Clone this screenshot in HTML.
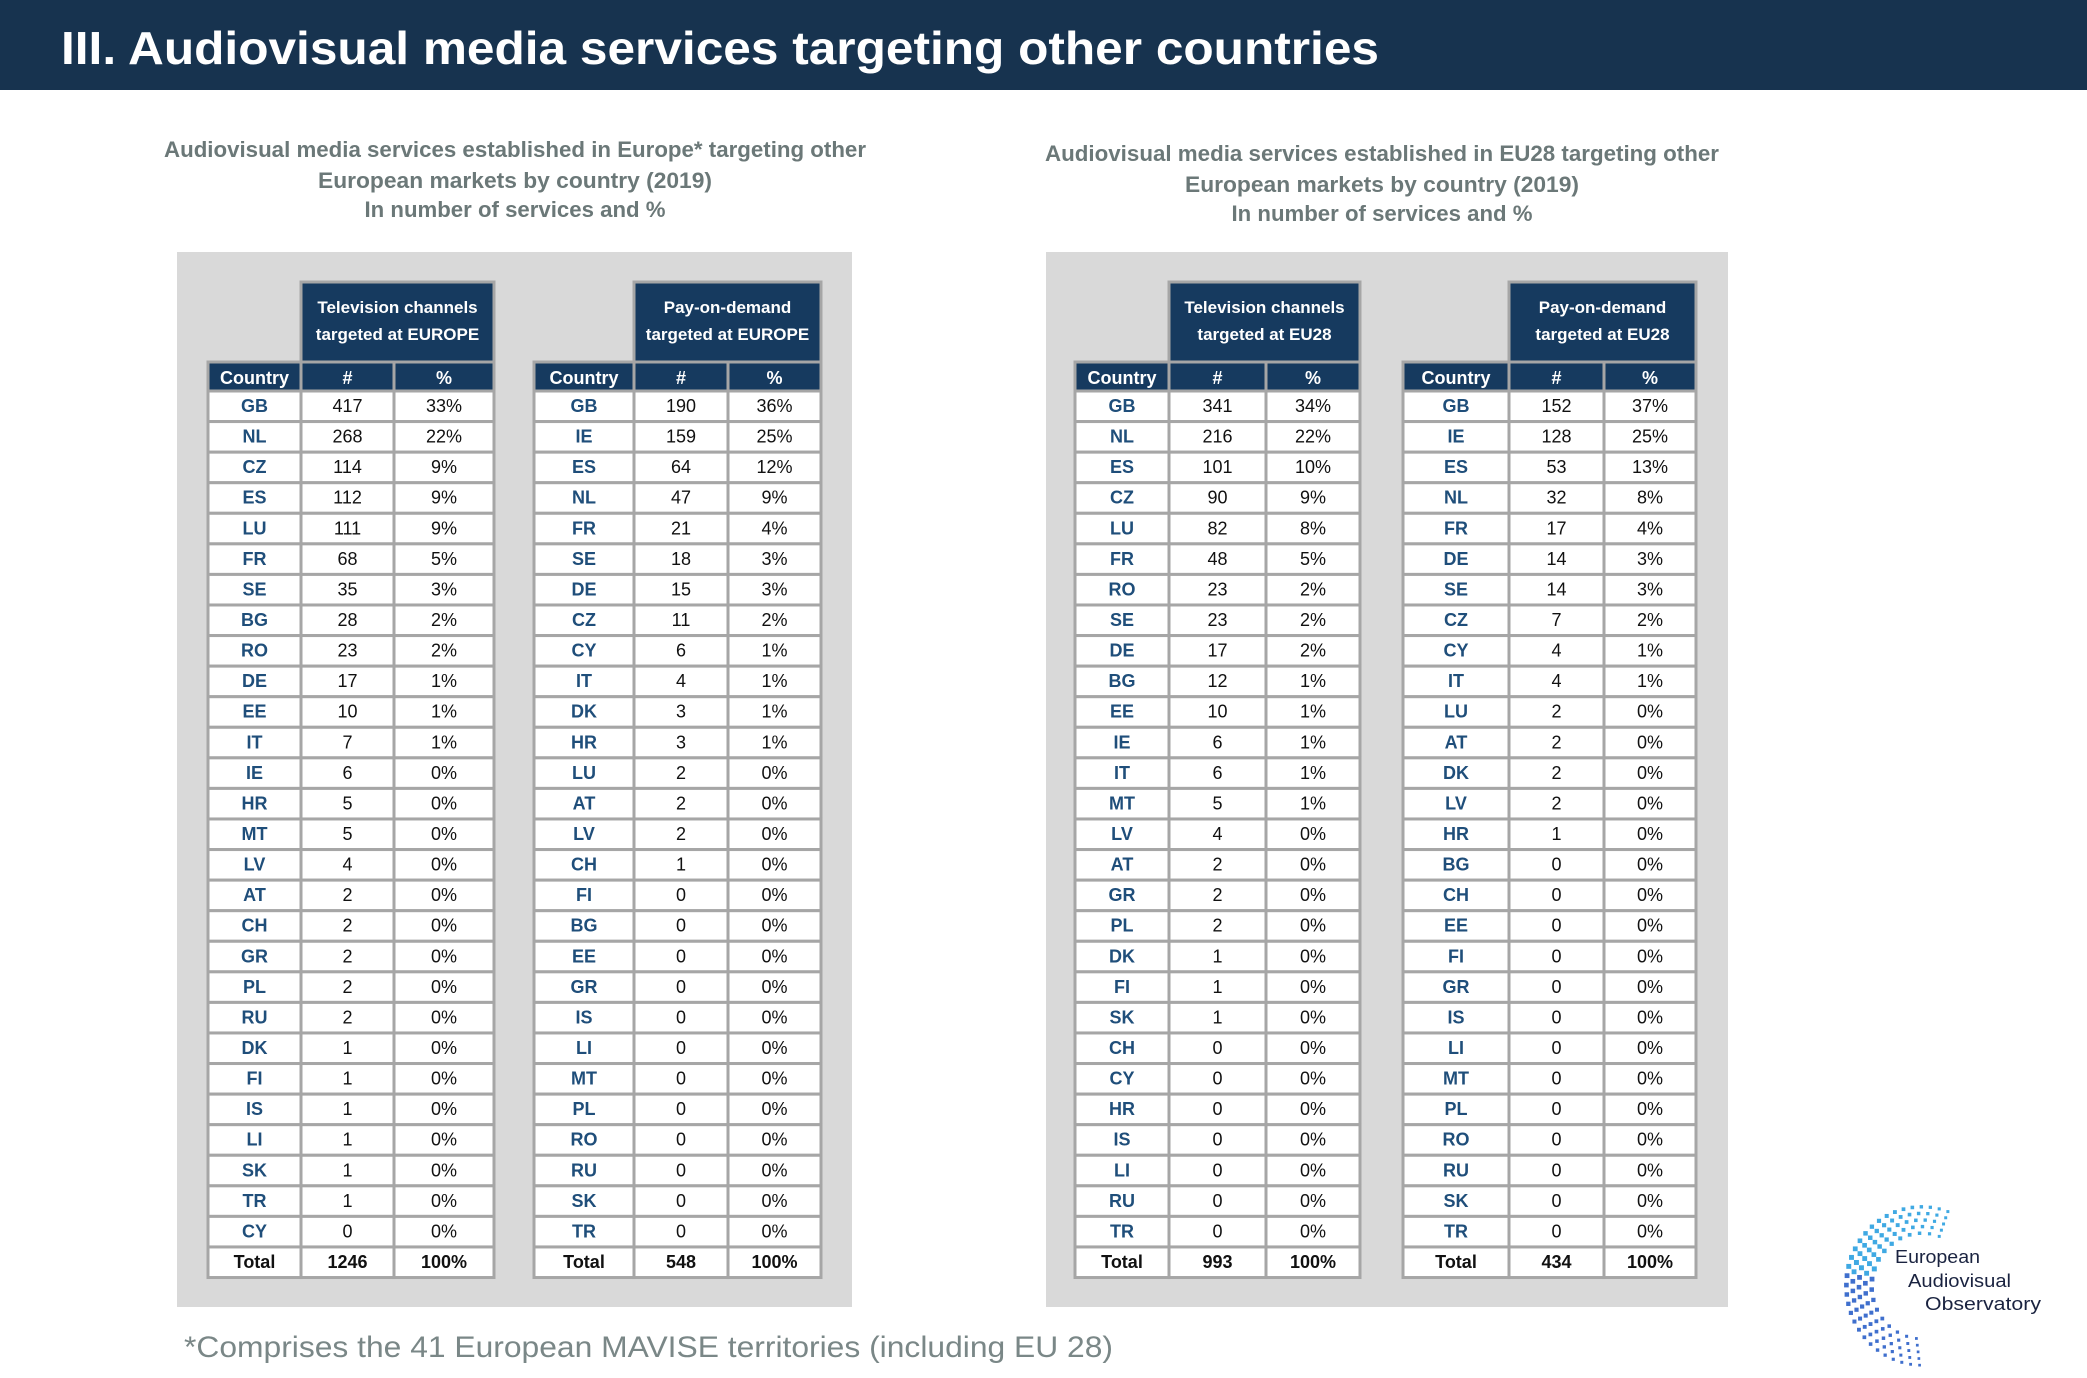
<!DOCTYPE html>
<html><head><meta charset="utf-8"><style>
html,body{margin:0;padding:0;background:#fff}
svg{display:block}
text{font-family:"Liberation Sans",sans-serif}
</style></head><body>
<svg id="page" width="2087" height="1378" viewBox="0 0 2087 1378" xmlns="http://www.w3.org/2000/svg">
<rect x="0" y="0" width="2087" height="90" fill="#17334f"/>
<text x="61" y="64" font-size="46" font-weight="bold" fill="#fff" textLength="1318" lengthAdjust="spacingAndGlyphs">III. Audiovisual media services targeting other countries</text>

<g font-size="22" font-weight="bold" fill="#6b7878" text-anchor="middle">
<text x="515" y="157" textLength="702" lengthAdjust="spacingAndGlyphs">Audiovisual media services established in Europe* targeting other</text>
<text x="515" y="188" textLength="394" lengthAdjust="spacingAndGlyphs">European markets by country (2019)</text>
<text x="515" y="217" textLength="301" lengthAdjust="spacingAndGlyphs">In number of services and %</text>
</g>
<g font-size="22" font-weight="bold" fill="#6b7878" text-anchor="middle">
<text x="1382" y="161" textLength="674" lengthAdjust="spacingAndGlyphs">Audiovisual media services established in EU28 targeting other</text>
<text x="1382" y="192" textLength="394" lengthAdjust="spacingAndGlyphs">European markets by country (2019)</text>
<text x="1382" y="221" textLength="301" lengthAdjust="spacingAndGlyphs">In number of services and %</text>
</g>
<rect x="177" y="252" width="675" height="1055" fill="#d9d9d9"/>
<rect x="1046" y="252" width="682" height="1055" fill="#d9d9d9"/>
<g id="tables"></g>
<text x="184" y="1357" font-size="30" fill="#7a8787" textLength="929" lengthAdjust="spacingAndGlyphs">*Comprises the 41 European MAVISE territories (including EU 28)</text>
<g id="logo"></g>
<g font-size="18" fill="#1a2340">
<text x="1895" y="1263" textLength="85" lengthAdjust="spacingAndGlyphs">European</text>
<text x="1908" y="1287" textLength="103" lengthAdjust="spacingAndGlyphs">Audiovisual</text>
<text x="1925" y="1310" textLength="116" lengthAdjust="spacingAndGlyphs">Observatory</text>
</g>
</svg>
<script>
const NS="http://www.w3.org/2000/svg";
const countriesA=["GB","NL","CZ","ES","LU","FR","SE","BG","RO","DE","EE","IT","IE","HR","MT","LV","AT","CH","GR","PL","RU","DK","FI","IS","LI","SK","TR","CY"];
const countsA=[417,268,114,112,111,68,35,28,23,17,10,7,6,5,5,4,2,2,2,2,2,1,1,1,1,1,1,0];
const pctA=[33,22,9,9,9,5,3,2,2,1,1,1,0,0,0,0,0,0,0,0,0,0,0,0,0,0,0,0];
const totalA=1246;
const countriesB=["GB","IE","ES","NL","FR","SE","DE","CZ","CY","IT","DK","HR","LU","AT","LV","CH","FI","BG","EE","GR","IS","LI","MT","PL","RO","RU","SK","TR"];
const countsB=[190,159,64,47,21,18,15,11,6,4,3,3,2,2,2,1,0,0,0,0,0,0,0,0,0,0,0,0];
const pctB=[36,25,12,9,4,3,3,2,1,1,1,1,0,0,0,0,0,0,0,0,0,0,0,0,0,0,0,0];
const totalB=548;
const countriesC=["GB","NL","ES","CZ","LU","FR","RO","SE","DE","BG","EE","IE","IT","MT","LV","AT","GR","PL","DK","FI","SK","CH","CY","HR","IS","LI","RU","TR"];
const countsC=[341,216,101,90,82,48,23,23,17,12,10,6,6,5,4,2,2,2,1,1,1,0,0,0,0,0,0,0];
const pctC=[34,22,10,9,8,5,2,2,2,1,1,1,1,1,0,0,0,0,0,0,0,0,0,0,0,0,0,0];
const totalC=993;
const countriesD=["GB","IE","ES","NL","FR","DE","SE","CZ","CY","IT","LU","AT","DK","LV","HR","BG","CH","EE","FI","GR","IS","LI","MT","PL","RO","RU","SK","TR"];
const countsD=[152,128,53,32,17,14,14,7,4,4,2,2,2,2,1,0,0,0,0,0,0,0,0,0,0,0,0,0];
const pctD=[37,25,13,8,4,3,3,2,1,1,0,0,0,0,0,0,0,0,0,0,0,0,0,0,0,0,0,0];
const totalD=434;

function mk(tag,attrs,parent){const e=document.createElementNS(NS,tag);for(const k in attrs)e.setAttribute(k,attrs[k]);parent.appendChild(e);return e;}
const root=document.getElementById('tables');
const Y0=391, RH=30.57, HEAD_TOP=282, HEAD_ROW=362;
function table(id,xs,title1,title2,countries,counts,pcts,total){
  const g=mk('g',{},root);
  
  
  const hb=mk('rect',{x:xs[1],y:HEAD_TOP,width:xs[3]-xs[1],height:HEAD_ROW-HEAD_TOP,fill:'#163a5f',stroke:'#a6a6a6','stroke-width':3},g);
  
  
  const cx=(xs[1]+xs[3])/2;
  const t1=mk('text',{x:cx,y:313,'font-size':17,'font-weight':'bold',fill:'#fff','text-anchor':'middle'},g);t1.textContent=title1;
  
  
  const t2=mk('text',{x:cx,y:340,'font-size':17,'font-weight':'bold',fill:'#fff','text-anchor':'middle'},g);t2.textContent=title2;
  
  
  const heads=['Country','#','%'];
  for(let c=0;c<3;c++){
    const r=mk('rect',{x:xs[c],y:HEAD_ROW,width:xs[c+1]-xs[c],height:Y0-HEAD_ROW,fill:'#163a5f',stroke:'#a6a6a6','stroke-width':3},g);
    
    
    const t=mk('text',{x:(xs[c]+xs[c+1])/2,y:HEAD_ROW+22,'font-size':18,'font-weight':'bold',fill:'#fff','text-anchor':'middle'},g);t.textContent=heads[c];
    
    
  }
  const n=countries.length;
  for(let i=0;i<=n;i++){
    const y=Y0+i*RH;
    const isTot=i===n;
    const vals=isTot?['Total',String(total),'100%']:[countries[i],String(counts[i]),pcts[i]+'%'];
    for(let c=0;c<3;c++){
      const r=mk('rect',{x:xs[c],y:y,width:xs[c+1]-xs[c],height:RH,fill:'#fff',stroke:'#a6a6a6','stroke-width':3},g);
      
      
      const bold=(c===0)||isTot;
      const t=mk('text',{x:(xs[c]+xs[c+1])/2,y:y+21,'font-size':18,'font-weight':bold?'bold':'normal',fill:(c===0&&!isTot)?'#1f4e7a':'#111','text-anchor':'middle'},g);
      t.textContent=vals[c];
      
      
    }
  }
}
table('europe-tv-table',[208,301,394,494],'Television channels','targeted at EUROPE',countriesA,countsA,pctA,totalA);
table('europe-vod-table',[534,634,728,821],'Pay-on-demand','targeted at EUROPE',countriesB,countsB,pctB,totalB);
table('eu28-tv-table',[1075,1169,1266,1360],'Television channels','targeted at EU28',countriesC,countsC,pctC,totalC);
table('eu28-vod-table',[1403,1509,1604,1696],'Pay-on-demand','targeted at EU28',countriesD,countsD,pctD,totalD);

const lg=document.getElementById('logo');
const cxL=1922, cyL=1286;
for(let ring=0;ring<5;ring++){
  const rad=48+ring*6;
  const steps=18+ring*3;
  for(let k=0;k<steps;k++){
    const a=(-110+k*(205/steps))*Math.PI/180;
    const px=cxL-Math.cos(a)*rad*1.05, py=cyL+Math.sin(a)*rad*1.1;
    const s=5*(1-Math.abs(k/steps-0.45)*0.9);
    const col=k<steps/2?'#2aa0e0':'#2a5fc8';
    const q=mk('rect',{x:px-s/2,y:py-s/2,width:s,height:s,fill:col,opacity:0.9},lg);
    
    
  }
}
</script>
</body></html>
